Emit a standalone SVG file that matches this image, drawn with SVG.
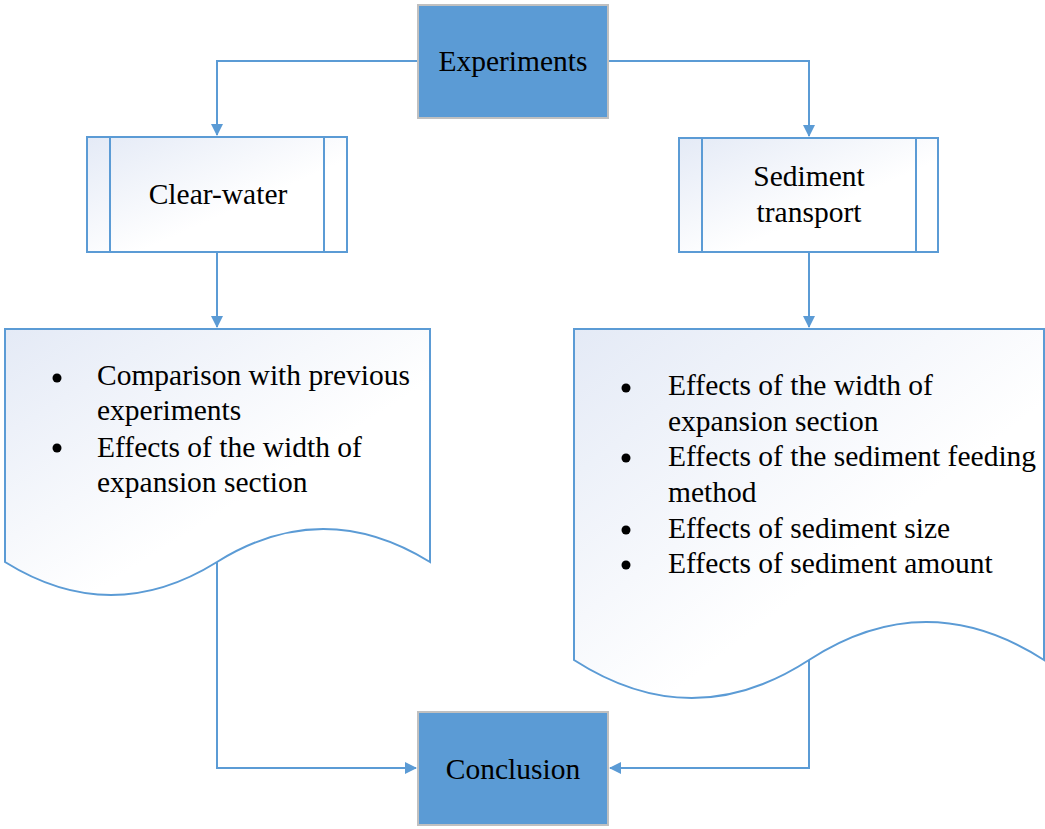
<svg xmlns="http://www.w3.org/2000/svg" width="1045" height="829" viewBox="0 0 1045 829">
<style>
.t{font-family:"Liberation Serif","Times New Roman",serif;font-size:29.5px;fill:#000}
.c{text-anchor:middle}
.ln{fill:none;stroke:#5b9bd5;stroke-width:2}
.bx{fill:url(#g);stroke:#5b9bd5;stroke-width:2}
.dk{fill:#5b9bd5;stroke:#c0c0c0;stroke-width:2}
</style>
<defs>
<linearGradient id="g" x1="0" y1="0" x2="1" y2="1">
<stop offset="0" stop-color="#e4eaf6"/>
<stop offset="0.6" stop-color="#ffffff"/>
</linearGradient>
<marker id="a" markerWidth="12" markerHeight="12" refX="11" refY="6" orient="auto" markerUnits="userSpaceOnUse">
<path d="M0,0 L12,6 L0,12 z" fill="#5b9bd5"/>
</marker>
</defs>
<g id="connectors">
<path class="ln" d="M418,61 H217 V135" marker-end="url(#a)"/>
<path class="ln" d="M608,61 H809 V136" marker-end="url(#a)"/>
<path class="ln" d="M217,252 V327" marker-end="url(#a)"/>
<path class="ln" d="M809,252 V327" marker-end="url(#a)"/>
<path class="ln" d="M217,561 V768 H416" marker-end="url(#a)"/>
<path class="ln" d="M809,660 V768 H610" marker-end="url(#a)"/>
</g>
<g id="experiments">
<rect class="dk" x="418" y="5" width="190" height="113"/>
<text class="t c" x="513" y="71">Experiments</text>
</g>
<g id="clear-water">
<rect class="bx" x="87" y="137" width="260" height="115"/>
<line class="ln" x1="110" y1="137" x2="110" y2="252"/>
<line class="ln" x1="324" y1="137" x2="324" y2="252"/>
<text class="t c" x="218" y="204">Clear-water</text>
</g>
<g id="sediment-transport">
<rect class="bx" x="679" y="138" width="259" height="114"/>
<line class="ln" x1="702" y1="138" x2="702" y2="252"/>
<line class="ln" x1="916" y1="138" x2="916" y2="252"/>
<text class="t c" x="809" y="186">Sediment</text>
<text class="t c" x="809" y="222">transport</text>
</g>
<g id="clear-water-doc">
<path class="bx" d="M5,329 H430 V562 Q323,496 217,562 T5,562 Z"/>
<circle cx="57" cy="378" r="4.5"/>
<circle cx="57" cy="448" r="4.5"/>
<text class="t" x="97" y="385">Comparison with previous</text>
<text class="t" x="97" y="420">experiments</text>
<text class="t" x="97" y="457">Effects of the width of</text>
<text class="t" x="97" y="492">expansion section</text>
</g>
<g id="sediment-doc">
<path class="bx" d="M574,329 H1044 V660 Q926,584 809,660 T574,660 Z"/>
<circle cx="626" cy="388" r="4.5"/>
<circle cx="626" cy="458" r="4.5"/>
<circle cx="626" cy="530" r="4.5"/>
<circle cx="626" cy="565" r="4.5"/>
<text class="t" x="668" y="395">Effects of the width of</text>
<text class="t" x="668" y="431">expansion section</text>
<text class="t" x="668" y="466">Effects of the sediment feeding</text>
<text class="t" x="668" y="502">method</text>
<text class="t" x="668" y="538">Effects of sediment size</text>
<text class="t" x="668" y="573">Effects of sediment amount</text>
</g>
<g id="conclusion">
<rect class="dk" x="418" y="712" width="190" height="113"/>
<text class="t c" x="513" y="779">Conclusion</text>
</g>
</svg>
